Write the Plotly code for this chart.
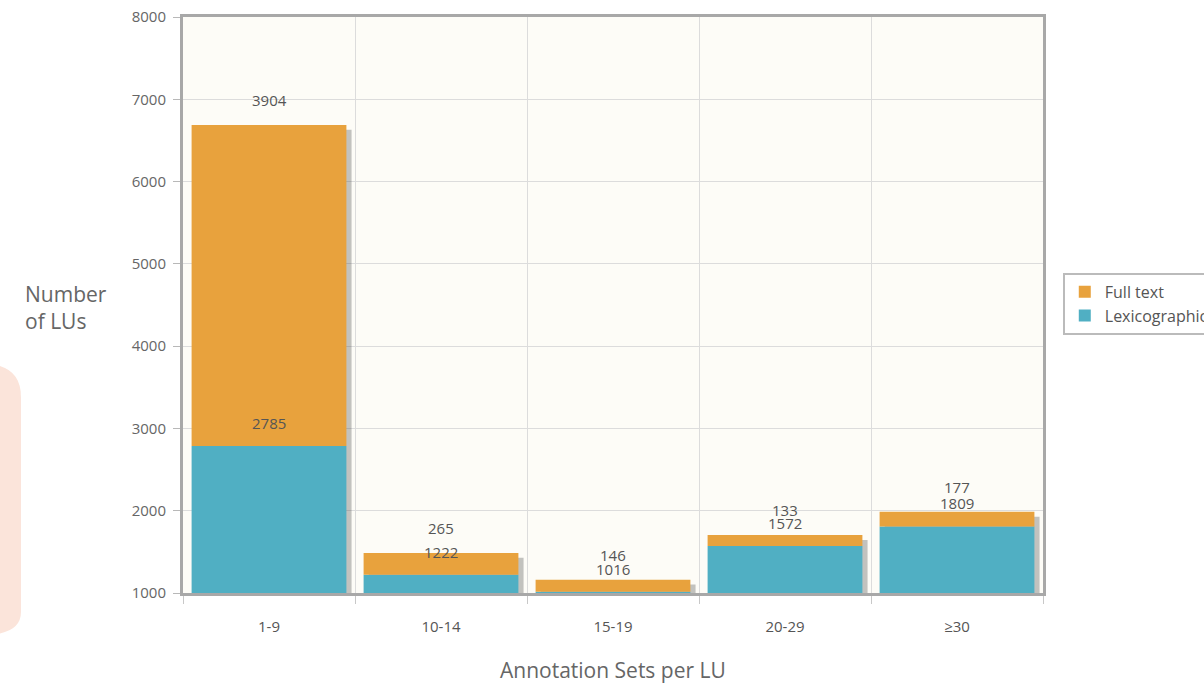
import plotly.graph_objects as go

categories = ["1-9", "10-14", "15-19", "20-29", "≥30"]
lexicographic = [2785, 1222, 1016, 1572, 1809]
full_text = [3904, 265, 146, 133, 177]
y_ticks = [1000, 2000, 3000, 4000, 5000, 6000, 7000, 8000]

totals = [a + b for a, b in zip(lexicographic, full_text)]

FONT = "Open Sans"
ORANGE = "#e8a23d"
TEAL = "#50afc3"

fig = go.Figure()

# shadow behind bars
fig.add_trace(go.Bar(
    x=categories, y=[t - 60 for t in totals], base=0,
    width=0.9, offset=-0.42,
    marker=dict(color="rgba(60,60,60,0.3)", line=dict(width=0)),
    showlegend=False, hoverinfo="skip",
))
fig.add_trace(go.Bar(
    x=categories, y=lexicographic, base=0, name="Lexicographic",
    width=0.9, marker=dict(color=TEAL, line=dict(width=0)),
))
fig.add_trace(go.Bar(
    x=categories, y=full_text, base=lexicographic, name="Full text",
    width=0.9, marker=dict(color=ORANGE, line=dict(width=0)),
))

annotations = []
for c, lx, tot, ft in zip(categories, lexicographic, totals, full_text):
    annotations.append(dict(x=c, y=lx, text=str(lx), showarrow=False, yshift=23,
                            font=dict(family=FONT, size=15, color="#555")))
    annotations.append(dict(x=c, y=tot, text=str(ft), showarrow=False, yshift=25,
                            font=dict(family=FONT, size=15, color="#555")))

annotations.append(dict(xref="paper", yref="paper", x=-0.186, y=0.445, xanchor="left",
                        yanchor="bottom", align="left", showarrow=False,
                        text="Number<br>of LUs",
                        font=dict(family=FONT, size=21, color="#666")))
annotations.append(dict(xref="paper", yref="paper", x=0.5, y=-0.134, xanchor="center",
                        yanchor="middle", showarrow=False,
                        text="Annotation Sets per LU",
                        font=dict(family=FONT, size=21, color="#666")))

shapes = [dict(type="path", xref="paper", yref="paper", layer="below",
               path="M -0.26,0.398 L -0.2335,0.398 Q -0.1884,0.398 -0.1884,0.34 L -0.1884,-0.033 Q -0.1884,-0.073 -0.2335,-0.073 L -0.26,-0.073 Z",
               fillcolor="#fbe4da", line=dict(width=0))]

fig.update_layout(
    width=1204, height=683,
    margin=dict(l=183, r=161, t=17, b=90, autoexpand=False),
    barmode="overlay",
    paper_bgcolor="white",
    plot_bgcolor="#fdfcf7",
    font=dict(family=FONT, color="#555"),
    showlegend=True,
    legend=dict(x=1.023, y=0.556, xanchor="left", yanchor="top",
                traceorder="reversed", bgcolor="white",
                bordercolor="#bbb", borderwidth=2,
                font=dict(family=FONT, size=16, color="#555"),
                itemwidth=30, tracegroupgap=6),
    annotations=annotations,
    shapes=shapes,
    bargap=0.1,
)
fig.update_xaxes(
    type="category", tickson="boundaries", showgrid=True, gridcolor="#dcdcdc",
    gridwidth=1, showline=True, linecolor="#a8a8a8", linewidth=3, mirror=True,
    ticks="outside", ticklen=8, tickcolor="#c8c8c8", tickwidth=1,
    ticklabelstandoff=18,
    tickfont=dict(family=FONT, size=15, color="#555"),
)
fig.update_yaxes(
    range=[1000, 8000], tickvals=y_ticks, showgrid=True, gridcolor="#dcdcdc",
    gridwidth=1, showline=True, linecolor="#a8a8a8", linewidth=3, mirror=True,
    ticks="outside", ticklen=7, tickcolor="#b8b8b8", tickwidth=1,
    ticklabelstandoff=4, zeroline=False,
    tickfont=dict(family=FONT, size=15, color="#666"),
)

fig.write_html("out.html")
